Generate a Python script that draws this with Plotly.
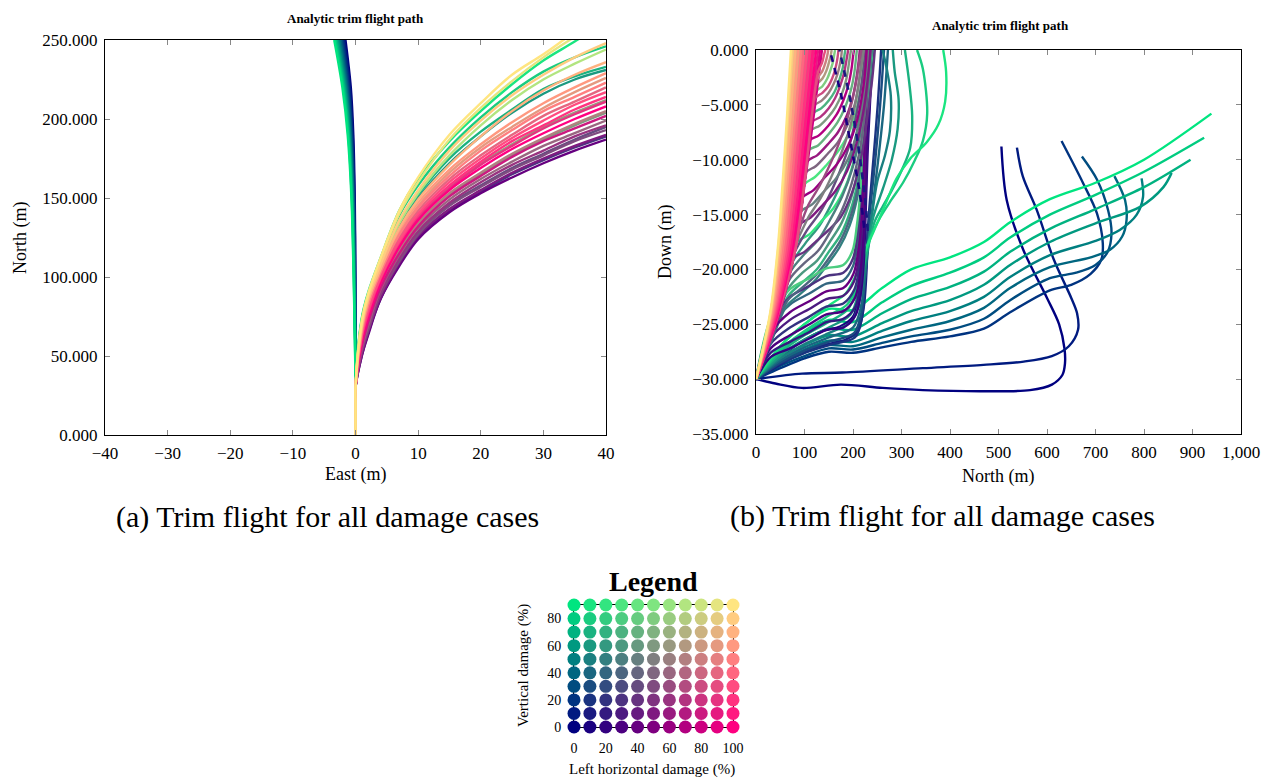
import plotly.graph_objects as go

# ---------------- colour map of the damage cases (left horizontal %, vertical %) ----------------
def col(h, v):
    return "rgb(%d,%d,128)" % (round(2.55 * h), round(2.55 * v))

# ================= LEFT PANEL: East (m) vs North (m) =================
left_bundle_N = [0, 30, 60, 100, 150, 190, 220, 250]
left_bundle_v = [0, 10, 20, 30, 40, 50, 60, 70, 80, 90]
left_bundle_E = [
    [0, 0, 0.00, -0.02, -0.12, -0.35, -0.75, -1.6],
    [0, 0, -0.01, -0.04, -0.18, -0.45, -0.90, -1.8],
    [0, 0, -0.02, -0.07, -0.24, -0.55, -1.05, -2.0],
    [0, 0, -0.03, -0.10, -0.30, -0.65, -1.20, -2.2],
    [0, 0, -0.04, -0.14, -0.36, -0.75, -1.35, -2.4],
    [0, 0, -0.05, -0.17, -0.42, -0.85, -1.50, -2.6],
    [0, 0, -0.06, -0.20, -0.48, -0.95, -1.65, -2.8],
    [0, 0, -0.07, -0.24, -0.55, -1.05, -1.80, -3.0],
    [0, 0, -0.08, -0.27, -0.60, -1.15, -1.95, -3.2],
    [0, 0, -0.10, -0.30, -0.65, -1.25, -2.10, -3.4],
]

fan_E = [0, 0, 0, 0, 1, 2, 4, 7, 10, 15, 20, 25, 30, 35, 40]
fan_cases = [
    (10, 90), (10, 80), (10, 70), (10, 60),
    (100, 90), (90, 90), (100, 80), (70, 90), (100, 70),
    (100, 60), (90, 60), (100, 50), (90, 40), (60, 60), (100, 30), (100, 20), (90, 20),
    (100, 0), (70, 50), (50, 60), (80, 10), (60, 40), (60, 20), (40, 30), (50, 30),
    (50, 10), (30, 20), (40, 0),
]
fan_N = [
    [0, 10, 20, 30, 74, 90, 112, 142, 162, 186, 205, 222, 237, 249, 262],
    [0, 10, 20, 30, 73, 89, 110, 139, 158, 182, 201, 217, 230, 239, 246],
    [0, 10, 20, 30, 71, 87, 107, 134, 152, 175, 192, 206, 219, 227, 233],
    [0, 10, 20, 30, 70, 86, 106, 132, 150, 172, 189, 204, 216, 225, 231],
    [0, 10, 20, 30, 72, 89, 112, 142, 163, 190, 210, 228, 241, 255, 268],
    [0, 10, 20, 30, 72, 89, 111, 140, 160, 187, 207, 224, 239, 252, 264],
    [0, 10, 20, 30, 70, 87, 108, 136, 155, 180, 199, 215, 228, 239, 248],
    [0, 10, 20, 30, 70, 86, 107, 134, 153, 177, 196, 212, 225, 235, 244],
    [0, 10, 20, 30, 68, 85, 105, 131, 149, 171, 189, 205, 218, 228, 236],
    [0, 10, 20, 30, 68, 85, 106, 130, 147, 168, 184, 198, 210, 220, 229],
    [0, 10, 20, 30, 67, 83, 105, 128, 145, 166, 182, 195, 207, 217, 226],
    [0, 10, 20, 30, 65, 82, 103, 127, 144, 164, 180, 193, 205, 214, 223],
    [0, 10, 20, 30, 64, 80, 102, 125, 142, 162, 177, 190, 202, 211, 220],
    [0, 10, 20, 30, 61, 76, 98, 121, 138, 157, 172, 184, 195, 204, 212],
    [0, 10, 20, 30, 63, 79, 100, 123, 140, 160, 175, 188, 199, 209, 217],
    [0, 10, 20, 30, 62, 77, 99, 122, 139, 158, 173, 186, 196, 206, 214],
    [0, 10, 20, 30, 60, 76, 97, 120, 137, 156, 171, 183, 194, 203, 211],
    [0, 10, 20, 30, 59, 74, 96, 119, 136, 155, 169, 181, 191, 200, 208],
    [0, 10, 20, 30, 58, 72, 95, 117, 134, 153, 166, 178, 188, 197, 205],
    [0, 10, 20, 30, 57, 71, 94, 116, 133, 152, 165, 177, 187, 196, 204],
    [0, 10, 20, 30, 56, 71, 93, 115, 132, 151, 164, 176, 186, 194, 202],
    [0, 10, 20, 30, 55, 69, 92, 114, 131, 149, 162, 173, 183, 191, 199],
    [0, 10, 20, 30, 54, 68, 90, 112, 129, 147, 160, 171, 180, 189, 196],
    [0, 10, 20, 30, 53, 67, 89, 111, 128, 146, 158, 169, 178, 187, 195],
    [0, 10, 20, 30, 53, 66, 89, 110, 127, 145, 157, 168, 177, 186, 193],
    [0, 10, 20, 30, 51, 65, 87, 109, 126, 143, 155, 166, 175, 183, 190],
    [0, 10, 20, 30, 50, 64, 86, 108, 125, 142, 154, 165, 174, 182, 189],
    [0, 10, 20, 30, 50, 63, 86, 107, 124, 141, 153, 163, 172, 180, 187],
]

# ================= RIGHT PANEL: North (m) vs Down (m) =================
rh0_cases = [(0, 90), (0, 80), (0, 70), (0, 60), (0, 50), (0, 40), (0, 30), (0, 20), (0, 10), (0, 0)]
rh0_N = [
    [0, 50, 100, 150, 200, 260, 320, 400, 470, 524, 606, 700, 800, 939],
    [0, 50, 100, 150, 200, 260, 320, 400, 470, 524, 606, 700, 800, 924],
    [0, 50, 100, 150, 200, 260, 320, 400, 470, 524, 606, 700, 800, 896],
    [0, 50, 100, 150, 200, 260, 320, 400, 470, 524, 606, 700, 792, 840, 857],
    [0, 50, 100, 150, 200, 260, 320, 400, 470, 524, 606, 700, 750, 785, 798, 795],
    [0, 50, 100, 150, 200, 260, 320, 400, 470, 524, 606, 690, 730, 755, 764, 761, 739],
    [0, 50, 100, 150, 200, 260, 320, 400, 470, 524, 606, 660, 700, 725, 733, 726, 703, 672],
    [0, 50, 100, 150, 200, 260, 320, 400, 470, 524, 606, 650, 690, 712, 715, 703, 674, 630],
    [0, 95, 178, 344, 469, 552, 610, 645, 664, 662, 650, 614, 579, 550, 538],
    [0, 40, 95, 175, 261, 344, 469, 565, 610, 632, 637, 636, 625, 600, 551, 517, 506],
]
rh0_D = [
    [-30, -27.0, -25.0, -23.6, -23.7, -21.7, -20.0, -18.9, -17.5, -15.7, -13.6, -12.1, -10.0, -5.8],
    [-30, -27.4, -25.8, -24.6, -24.8, -23.0, -21.5, -20.3, -18.9, -17.1, -15.0, -13.2, -11.1, -8.0],
    [-30, -27.8, -26.4, -25.4, -25.5, -24.0, -22.7, -21.6, -20.2, -18.4, -16.3, -14.5, -12.5, -10.0],
    [-30, -28.1, -26.9, -26.0, -26.1, -24.9, -23.8, -22.8, -21.4, -19.6, -17.5, -15.8, -14.3, -12.5, -11.2],
    [-30, -28.4, -27.3, -26.5, -26.6, -25.6, -24.7, -23.8, -22.5, -20.7, -18.7, -17.4, -16.4, -15.0, -13.4, -11.7],
    [-30, -28.6, -27.6, -26.9, -27.0, -26.2, -25.5, -24.7, -23.5, -21.7, -19.8, -18.9, -18.2, -17.0, -15.5, -13.7, -11.5],
    [-30, -28.8, -27.9, -27.2, -27.3, -26.7, -26.1, -25.5, -24.5, -22.8, -20.8, -20.3, -19.6, -18.4, -16.7, -14.6, -11.8, -9.7],
    [-30, -29.0, -28.1, -27.5, -27.6, -27.1, -26.6, -26.1, -25.4, -23.9, -21.9, -21.4, -20.4, -19.1, -17.6, -14.9, -12.1, -8.3],
    [-30, -29.5, -29.4, -29.0, -28.7, -28.4, -27.9, -27.0, -25.5, -24.0, -22.6, -19.1, -14.6, -11.5, -8.9],
    [-30, -30.4, -30.8, -30.5, -30.8, -31.0, -31.1, -31.0, -30.5, -29.6, -28.6, -27.2, -25.0, -22.6, -18.2, -13.7, -8.8],
]

rh10_cases = [(10, 90), (10, 80), (10, 70), (10, 60), (10, 50), (10, 40), (10, 30), (10, 20)]
rh10_N = [
    [0, 50, 100, 150, 185, 205, 228, 252, 269, 290, 318, 352, 376, 390, 392, 386],
    [0, 50, 100, 150, 188, 207, 226, 253, 280, 303, 328, 344, 353, 344, 332],
    [0, 50, 100, 150, 190, 210, 228, 245, 262, 280, 302, 318, 322, 316, 307],
    [0, 50, 100, 150, 195, 213, 228, 242, 262, 280, 292, 294, 286, 282],
    [0, 50, 100, 150, 198, 215, 227, 238, 250, 266, 276, 278, 270, 261],
    [0, 50, 100, 150, 200, 216, 226, 238, 252, 264, 272],
    [0, 50, 100, 150, 202, 217, 225, 234, 246, 256, 264],
    [0, 50, 100, 150, 204, 218, 225, 232, 242, 251, 258],
]
rh10_D = [
    [-30, -27.0, -25.0, -23.3, -22.2, -20.6, -18.0, -15.6, -13.8, -11.7, -9.9, -8.4, -6.8, -4.7, -2.0, 0],
    [-30, -27.3, -25.6, -24.2, -23.2, -21.6, -18.2, -15.5, -13.6, -12.1, -10.0, -8.3, -5.8, -1.7, 0],
    [-30, -27.6, -26.0, -24.8, -23.6, -21.6, -18.6, -15.6, -14.2, -12.8, -10.8, -8.9, -6.0, -3.0, 0],
    [-30, -27.9, -26.4, -25.3, -24.1, -21.8, -18.6, -15.2, -12.6, -10.0, -7.2, -4.5, -2.0, 0],
    [-30, -28.1, -26.8, -25.8, -24.7, -22.6, -19.2, -15.4, -12.0, -9.6, -7.4, -4.2, -1.8, 0],
    [-30, -28.3, -27.1, -26.2, -25.3, -23.5, -20.2, -15.2, -10.0, -5.0, 0],
    [-30, -28.5, -27.4, -26.6, -25.8, -24.0, -20.6, -15.2, -10.0, -5.0, 0],
    [-30, -28.6, -27.6, -26.9, -26.2, -24.5, -21.0, -15.4, -10.0, -5.0, 0],
]

hook_cases = [(10, 10), (10, 0)]
hook_climb_N = [[0, 60, 110, 150, 185, 210, 222, 228, 230],
                [0, 56, 105, 138, 173, 200, 212, 220, 223]]
hook_climb_D = [[-30, -28.4, -27.3, -26.8, -26.4, -25.6, -23.5, -20.0, -16.5],
                [-30, -27.8, -26.3, -25.6, -25.2, -24.3, -22.5, -19.6, -16.2]]
hook_back_N = [[230, 228, 222, 210, 192, 172],
               [223, 220, 212, 195, 175, 152]]
hook_back_D = [[-16.5, -15.0, -12.5, -8.5, -4.0, 0],
               [-16.2, -15.0, -12.5, -8.5, -4.0, 0]]

wall_cases = [(20, 0), (20, 10), (30, 0), (20, 20), (30, 10), (40, 0), (20, 40), (30, 20), (30, 80)]
wall_N = [
    [0, 30, 70, 110, 145, 180, 205, 216, 222, 226, 230, 236, 242],
    [0, 30, 70, 110, 145, 180, 205, 215, 221, 225, 229, 235, 240],
    [0, 30, 70, 110, 145, 180, 204, 214, 220, 224, 228, 233, 238],
    [0, 30, 70, 110, 145, 180, 203, 213, 219, 223, 227, 232, 236],
    [0, 30, 70, 110, 145, 180, 202, 212, 218, 222, 226, 230, 234],
    [0, 30, 70, 110, 145, 180, 201, 211, 217, 221, 225, 229, 232],
    [0, 30, 70, 110, 145, 180, 200, 210, 216, 220, 224, 227, 230],
    [0, 30, 70, 110, 145, 180, 200, 209, 215, 219, 222, 225, 228],
    [0, 30, 70, 110, 145, 180, 199, 208, 214, 218, 221, 224, 226],
]
wall_D = [
    [-30, -28.0, -27.2, -26.3, -25.5, -25.3, -24.2, -22.2, -19.5, -15.0, -9.5, -4.0, 0],
    [-30, -27.6, -26.6, -25.7, -24.8, -24.5, -23.4, -21.4, -18.8, -14.5, -9.0, -4.0, 0],
    [-30, -27.2, -26.0, -25.0, -24.1, -23.8, -22.6, -20.6, -18.0, -14.0, -8.5, -3.5, 0],
    [-30, -26.8, -25.3, -24.3, -23.4, -23.1, -21.8, -19.8, -17.3, -13.5, -8.0, -3.5, 0],
    [-30, -26.3, -24.6, -23.6, -22.7, -22.4, -21.1, -19.0, -16.6, -13.0, -7.5, -3.0, 0],
    [-30, -25.8, -23.9, -22.9, -22.0, -21.7, -20.4, -18.3, -15.8, -12.5, -7.0, -3.0, 0],
    [-30, -25.3, -23.2, -22.2, -21.3, -21.0, -19.7, -17.5, -15.0, -12.0, -6.5, -2.5, 0],
    [-30, -24.9, -22.5, -21.5, -20.6, -20.3, -19.0, -16.8, -14.2, -11.5, -6.0, -2.5, 0],
    [-30, -24.5, -21.8, -20.8, -19.9, -19.6, -18.3, -16.0, -13.5, -11.0, -5.5, -2.5, 0],
]

diag_cases = [(20, 70), (30, 60), (40, 40), (30, 50), (20, 60), (40, 30), (50, 50), (60, 30), (20, 50), (30, 40)]
diag_N = [
    [0, 35, 65, 95, 125, 150, 175, 195, 210, 222, 232, 240],
    [0, 35, 66, 96, 126, 152, 176, 196, 211, 223, 232, 238],
    [0, 36, 68, 98, 128, 154, 177, 197, 212, 223, 231, 236],
    [0, 37, 70, 100, 130, 155, 178, 198, 212, 222, 229, 233],
    [0, 38, 72, 102, 131, 156, 178, 197, 210, 219, 226, 230],
    [0, 38, 74, 104, 132, 156, 177, 195, 207, 216, 222, 226],
    [0, 39, 76, 106, 132, 155, 175, 192, 204, 212, 218, 222],
    [0, 40, 78, 106, 131, 153, 172, 188, 200, 208, 213, 217],
    [0, 33, 62, 92, 122, 148, 172, 193, 208, 220, 230, 238],
    [0, 34, 64, 94, 124, 150, 174, 194, 209, 221, 230, 237],
]
diag_D = [
    [-30, -26.0, -22.5, -21.2, -20.0, -18.4, -16.8, -14.6, -12.0, -8.6, -4.5, 0],
    [-30, -25.8, -21.8, -20.3, -19.2, -17.5, -15.8, -13.5, -10.8, -7.4, -3.6, 0],
    [-30, -25.6, -21.0, -19.5, -18.3, -16.5, -14.6, -12.2, -9.6, -6.4, -3.0, 0],
    [-30, -25.4, -20.3, -18.6, -17.2, -15.3, -13.3, -10.9, -8.3, -5.4, -2.5, 0],
    [-30, -25.2, -19.6, -17.6, -16.0, -14.0, -11.9, -9.5, -7.0, -4.4, -2.0, 0],
    [-30, -25.0, -19.0, -16.5, -14.8, -12.8, -10.6, -8.3, -5.9, -3.6, -1.6, 0],
    [-30, -24.8, -18.5, -15.4, -13.6, -11.6, -9.5, -7.3, -5.1, -3.0, -1.3, 0],
    [-30, -24.6, -18.0, -14.3, -12.4, -10.4, -8.4, -6.3, -4.3, -2.5, -1.0, 0],
    [-30, -26.4, -23.4, -22.2, -21.0, -19.5, -18.0, -16.0, -13.6, -10.2, -5.5, 0],
    [-30, -26.2, -22.9, -21.7, -20.5, -19.0, -17.4, -15.3, -12.8, -9.4, -4.9, 0],
]

mid_cases = [(40, 20), (20, 90), (50, 10), (40, 50), (60, 0), (30, 90), (50, 40), (60, 10), (40, 70),
             (70, 0), (50, 60), (70, 20), (30, 70), (60, 50), (80, 30), (50, 80), (70, 60), (80, 50), (90, 30)]
mid_N = [
    [0, 40, 76, 100, 125, 150, 175, 198, 216, 230, 240, 245],
    [0, 42, 74, 85, 110, 135, 160, 185, 205, 222, 234, 240],
    [0, 43, 76, 88, 112, 138, 163, 188, 208, 223, 232, 236],
    [0, 43, 77, 91, 115, 140, 165, 190, 209, 222, 229, 232],
    [0, 44, 78, 95, 118, 142, 167, 190, 208, 220, 226, 228],
    [0, 44, 79, 99, 121, 145, 168, 190, 206, 217, 222, 224],
    [0, 45, 80, 102, 123, 147, 169, 189, 204, 213, 217, 219],
    [0, 45, 80, 105, 126, 148, 169, 187, 200, 208, 212, 214],
    [0, 46, 81, 107, 128, 149, 168, 184, 196, 203, 206, 208],
    [0, 46, 81, 109, 129, 149, 166, 180, 191, 197, 200, 202],
    [0, 46, 82, 112, 131, 149, 164, 177, 186, 191, 194, 196],
    [0, 47, 82, 100, 115, 133, 150, 163, 174, 182, 187, 190],
    [0, 47, 82, 100, 118, 135, 150, 162, 172, 179, 182, 184],
    [0, 47, 82, 100, 120, 136, 150, 160, 168, 173, 176, 177],
    [0, 47, 82, 100, 122, 137, 149, 157, 163, 167, 169, 170],
    [0, 47, 82, 100, 124, 137, 147, 153, 158, 161, 163],
    [0, 47, 82, 100, 125, 137, 145, 150, 154, 156],
    [0, 47, 82, 100, 127, 137, 143, 147, 149],
    [0, 47, 82, 100, 128, 136, 140, 143],
]
mid_D = [
    [-30, -24.6, -19.0, -18.4, -17.4, -16.4, -15.2, -13.0, -10.0, -6.0, -2.5, 0],
    [-30, -24.3, -19.5, -17.5, -16.8, -15.6, -14.4, -12.4, -9.6, -6.0, -2.4, 0],
    [-30, -24.2, -19.0, -16.0, -15.3, -14.1, -12.9, -11.0, -8.4, -5.2, -2.0, 0],
    [-30, -24.1, -18.8, -14.8, -14.1, -12.9, -11.7, -9.9, -7.4, -4.5, -1.8, 0],
    [-30, -24.0, -18.6, -13.5, -12.8, -11.6, -10.4, -8.7, -6.5, -3.8, -1.5, 0],
    [-30, -24.0, -18.4, -12.3, -11.6, -10.5, -9.3, -7.7, -5.6, -3.2, -1.2, 0],
    [-30, -24.0, -18.2, -11.2, -10.6, -9.5, -8.4, -6.8, -4.9, -2.7, -1.0, 0],
    [-30, -24.0, -18.1, -10.2, -9.6, -8.6, -7.5, -6.0, -4.2, -2.3, -0.9, 0],
    [-30, -23.9, -18.0, -9.2, -8.7, -7.7, -6.6, -5.2, -3.6, -2.0, -0.8, 0],
    [-30, -23.9, -18.0, -8.3, -7.8, -6.9, -5.9, -4.6, -3.1, -1.7, -0.6, 0],
    [-30, -23.9, -17.9, -7.4, -6.9, -6.1, -5.2, -4.0, -2.7, -1.4, -0.5, 0],
    [-30, -23.9, -17.9, -12.0, -6.6, -6.1, -5.3, -4.4, -3.2, -2.0, -0.8, 0],
    [-30, -23.9, -17.9, -12.0, -5.8, -5.3, -4.6, -3.8, -2.7, -1.6, -0.6, 0],
    [-30, -23.9, -17.9, -12.0, -5.1, -4.6, -3.9, -3.1, -2.2, -1.3, -0.5, 0],
    [-30, -23.9, -17.9, -12.0, -4.4, -3.9, -3.3, -2.6, -1.8, -1.0, -0.4, 0],
    [-30, -23.9, -17.9, -12.0, -3.8, -3.3, -2.6, -1.9, -1.2, -0.5, 0],
    [-30, -23.9, -17.9, -12.0, -3.2, -2.6, -1.9, -1.2, -0.5, 0],
    [-30, -23.9, -17.9, -12.0, -2.6, -1.9, -1.2, -0.5, 0],
    [-30, -23.9, -17.9, -12.0, -2.0, -1.2, -0.5, 0],
]

env_D = [-30, -24, -18, -12, -6, 0]
env_cases = [(100, 90), (100, 80), (90, 80), (100, 70), (90, 70), (100, 60), (80, 70), (100, 50), (90, 50),
             (100, 40), (90, 40), (100, 30), (80, 40), (100, 20), (90, 30), (100, 10), (90, 20), (100, 0),
             (90, 10), (90, 0), (80, 0)]
env_N = [
    [0, 29, 45, 55, 64, 72],
    [0, 30, 46, 57, 66, 75],
    [0, 30, 47, 58, 68, 78],
    [0, 31, 49, 61, 71, 81],
    [0, 32, 50, 63, 73, 84],
    [0, 33, 52, 65, 76, 87],
    [0, 34, 54, 67, 78, 90],
    [0, 35, 56, 69, 81, 93],
    [0, 36, 58, 72, 84, 96],
    [0, 37, 60, 74, 86, 99],
    [0, 38, 62, 77, 89, 102],
    [0, 39, 64, 79, 92, 105],
    [0, 40, 66, 82, 95, 108],
    [0, 41, 68, 84, 97, 111],
    [0, 42, 70, 86, 100, 114],
    [0, 43, 72, 89, 103, 117],
    [0, 44, 74, 91, 106, 120],
    [0, 45, 76, 94, 109, 124],
    [0, 46, 78, 96, 112, 128],
    [0, 47, 80, 99, 116, 132],
    [0, 48, 82, 101, 119, 136],
]

# ================= LEGEND GRID =================
legend_h = [0, 10, 20, 30, 40, 50, 60, 70, 80, 90, 100]
legend_v = [0, 10, 20, 30, 40, 50, 60, 70, 80, 90]

# ---------------------------------------------------------------------------------------
FONT = "Liberation Serif"
LW = 2.4
fig = go.Figure()

left_traces = []
for v, E in zip(left_bundle_v, left_bundle_E):
    left_traces.append(((0, v), E, left_bundle_N))
for case, N in zip(fan_cases, fan_N):
    left_traces.append((case, fan_E, N))
left_traces.sort(key=lambda t: t[0])
for (h, v), xs, ys in left_traces:
    fig.add_trace(go.Scatter(x=xs, y=ys, mode="lines", xaxis="x", yaxis="y",
                             line=dict(color=col(h, v), width=LW, shape="spline", smoothing=1.0),
                             hoverinfo="skip", showlegend=False))

right_traces = []
for cases, Ns, Ds in [(rh0_cases, rh0_N, rh0_D), (rh10_cases, rh10_N, rh10_D),
                      (wall_cases, wall_N, wall_D), (diag_cases, diag_N, diag_D), (mid_cases, mid_N, mid_D)]:
    for case, N, D in zip(cases, Ns, Ds):
        right_traces.append((case, N, D))
for case, N, D in zip(hook_cases, hook_climb_N, hook_climb_D):
    right_traces.append((case, N, D))
for case, N in zip(env_cases, env_N):
    right_traces.append((case, N, env_D))
right_traces.sort(key=lambda t: t[0])
for (h, v), xs, ys in right_traces:
    fig.add_trace(go.Scatter(x=xs, y=ys, mode="lines", xaxis="x2", yaxis="y2",
                             line=dict(color=col(h, v), width=LW, shape="spline", smoothing=0.9),
                             hoverinfo="skip", showlegend=False))
# the returning parts of the two hooking cases show through the crossing lines as dashes
for (h, v), xs, ys in zip(hook_cases, hook_back_N, hook_back_D):
    fig.add_trace(go.Scatter(x=xs, y=ys, mode="lines", xaxis="x2", yaxis="y2",
                             line=dict(color=col(h, v), width=2.6, shape="spline", smoothing=0.9,
                                       dash="7px,6px"),
                             hoverinfo="skip", showlegend=False))

gx = [h for h in legend_h for v in legend_v]
gy = [v for h in legend_h for v in legend_v]
gc = [col(h, v) for h in legend_h for v in legend_v]
fig.add_trace(go.Scatter(x=gx, y=gy, mode="markers", xaxis="x3", yaxis="y3", cliponaxis=False,
                         marker=dict(size=13, color=gc, line=dict(width=0)),
                         hoverinfo="skip", showlegend=False))

# page is offset by the browser's default 8px body margin
OFF = 8
W, H = 1274 - OFF, 780 - OFF

def px(xp):
    return (xp - OFF) / W

def py(yp):
    return 1 - (yp - OFF) / H

tickfont = dict(family=FONT, size=17, color="black")
common = dict(showgrid=False, zeroline=False, showline=True, linecolor="black", linewidth=1,
              mirror="ticks", ticks="inside", ticklen=5, tickcolor="#888", tickfont=tickfont,
              automargin=False, ticklabelstandoff=3)
leg_common = dict(showgrid=False, zeroline=False, showline=True, linecolor="black", linewidth=1,
                  mirror=True, ticks="", layer="below traces", automargin=False,
                  tickfont=dict(family=FONT, size=14, color="black"))

fig.update_layout(
    template="none",
    width=W, height=H, margin=dict(l=0, r=0, t=0, b=0),
    paper_bgcolor="white", plot_bgcolor="white",
    xaxis=dict(domain=[px(105), px(606)], range=[-40, 40], dtick=10, anchor="y", **common),
    yaxis=dict(domain=[py(435), py(40)], range=[0, 250], dtick=50, tickformat=".3f", anchor="x", **common),
    xaxis2=dict(domain=[px(756), px(1241)], range=[0, 1000], dtick=100, tickformat=",d", anchor="y2", **common),
    yaxis2=dict(domain=[py(434), py(50)], range=[-35, 0], dtick=5, tickformat=".3f", anchor="x2", **common),
    xaxis3=dict(domain=[px(574), px(733)], range=[0, 100], dtick=20, anchor="y3", ticklabelstandoff=8, **leg_common),
    yaxis3=dict(domain=[py(727), py(605)], range=[0, 90], tickvals=[0, 20, 40, 60, 80], anchor="x3",
                ticklabelstandoff=9, **leg_common),
)

def ann(text, x, y, size, angle=0):
    fig.add_annotation(text=text, x=px(x), y=py(y), xref="paper", yref="paper", showarrow=False,
                       xanchor="center", yanchor="middle", textangle=angle, borderpad=0,
                       font=dict(family=FONT, size=size, color="black"))

ann("<b>Analytic trim flight path</b>", 355, 18, 13)
ann("<b>Analytic trim flight path</b>", 1000, 26, 13)
ann("East (m)", 355, 474, 18)
ann("North (m)", 21, 238, 18, -90)
ann("North (m)", 998, 476, 18)
ann("Down (m)", 666, 242, 18, -90)
ann("(a) Trim flight for all damage cases", 327, 517, 30)
ann("(b) Trim flight for all damage cases", 943, 516, 30)
ann("<b>Legend</b>", 653, 581, 28)
ann("Vertical damage (%)", 523, 666, 15, -90)
ann("Left horizontal damage (%)", 652, 769, 15)

fig.write_html("out.html")
